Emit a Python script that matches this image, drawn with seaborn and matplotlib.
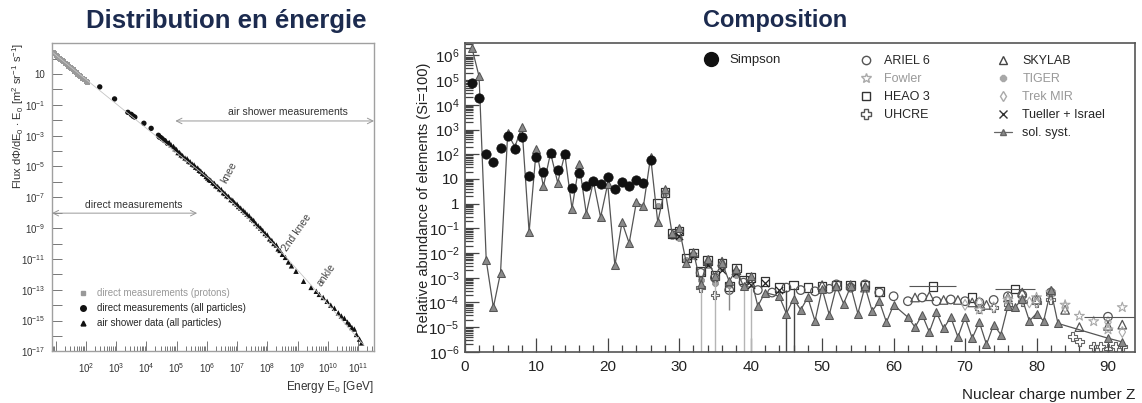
import numpy as np
import matplotlib
matplotlib.use('Agg')
import matplotlib.pyplot as plt
import seaborn as sns
from matplotlib.lines import Line2D
from matplotlib.ticker import LogLocator, FuncFormatter, MultipleLocator, NullFormatter

sns.set_style('ticks')
plt.rcParams['font.family'] = ['Liberation Sans', 'DejaVu Sans']
plt.rcParams['mathtext.default'] = 'regular'

# ---------------- données : spectre en énergie (log10) ----------------
prot_logE = [0.92, 0.97, 1.02, 1.07, 1.12, 1.17, 1.22, 1.27, 1.32, 1.38, 1.43, 1.48,
             1.53, 1.58, 1.63, 1.68, 1.74, 1.79, 1.84, 1.90, 1.95, 2.01, 2.06]
prot_logF = [2.37, 2.30, 2.20, 2.13, 2.03, 1.96, 1.86, 1.79, 1.69, 1.60, 1.51, 1.43,
             1.33, 1.26, 1.16, 1.09, 0.98, 0.90, 0.81, 0.72, 0.62, 0.53, 0.43]

direct_logE = [2.46, 2.95, 3.39, 3.50, 3.56, 3.62, 3.92, 4.16, 4.40, 4.43, 4.47, 4.52, 4.60, 4.70]
direct_logF = [0.16, -0.62, -1.49, -1.62, -1.73, -1.80, -2.20, -2.53, -2.98, -3.09, -3.12, -3.20, -3.32, -3.50]

air_logE = [4.76, 4.82, 4.90, 4.95, 5.00, 5.05, 5.10, 5.15, 5.20, 5.28, 5.35, 5.40, 5.45, 5.52,
            5.58, 5.63, 5.70, 5.75, 5.80, 5.86, 5.92, 5.98, 6.03, 6.08, 6.13, 6.20, 6.25, 6.30,
            6.36, 6.42, 6.48, 6.55, 6.60, 6.66, 6.72, 6.80, 6.86, 6.92, 7.00, 7.05, 7.12, 7.20,
            7.26, 7.33, 7.40, 7.48, 7.55, 7.62, 7.70, 7.78, 7.85, 7.93, 8.00, 8.08, 8.15, 8.22,
            8.30, 8.36, 8.42, 8.50, 8.60, 8.70, 8.80, 8.95, 9.20, 9.45, 9.62, 9.72, 9.85, 9.98,
            10.10, 10.22, 10.35, 10.45, 10.55, 10.65, 10.72, 10.80, 10.88, 10.95, 11.05, 11.12]
air_logF = [-3.45, -3.60, -3.70, -3.85, -3.90, -4.10, -4.10, -4.25, -4.30, -4.45, -4.50, -4.65,
            -4.70, -4.85, -4.90, -5.05, -5.10, -5.25, -5.30, -5.45, -5.50, -5.65, -5.75, -5.85,
            -5.90, -6.05, -6.10, -6.25, -6.30, -6.45, -6.50, -6.70, -6.75, -6.90, -6.95, -7.15,
            -7.20, -7.35, -7.45, -7.60, -7.70, -7.85, -7.95, -8.10, -8.20, -8.40, -8.50, -8.70,
            -8.85, -9.00, -9.15, -9.35, -9.45, -9.70, -9.80, -10.00, -10.10, -10.35, -10.45,
            -10.70, -10.90, -11.20, -11.45, -11.80, -12.45, -12.85, -13.10, -13.30, -13.50,
            -13.75, -14.00, -14.20, -14.50, -14.70, -14.85, -15.10, -15.25, -15.45, -15.55,
            -15.90, -16.20, -16.45]

fit_logE = [0.90, 6.10, 8.40, 9.70, 11.20]
fit_logF = [2.40, -5.85, -10.40, -13.25, -16.60]

# ---------------- données : composition (log10, Si=100) ----------------
simpson_z = list(range(1, 27))
simpson_log = [4.90, 4.27, 2.00, 1.70, 2.25, 2.73, 2.20, 2.70, 1.10, 1.90, 1.30, 2.05, 1.36,
               2.00, 0.64, 1.24, 0.72, 0.92, 0.80, 1.08, 0.60, 0.88, 0.72, 0.96, 0.84, 1.75]

sol_z = list(range(1, 43)) + list(range(44, 61)) + list(range(62, 84)) + [90, 92]
sol_log = [6.30, 5.15, -2.30, -4.20, -2.80, 2.85, 2.30, 3.10, -1.15, 2.20, 0.70, 2.05, 0.85,
           2.00, -0.20, 1.60, -0.40, 0.90, -0.55, 0.80, -2.50, -0.75, -1.60, 0.05, -0.10, 1.90,
           -0.75, 0.60, -1.20, -1.00, -2.40, -1.95, -3.25, -2.25, -2.95, -2.40, -3.15, -2.65,
           -3.35, -2.95, -4.15, -3.60,
           -3.75, -4.45, -3.85, -4.30, -3.80, -4.75, -3.45, -4.50, -3.35, -4.05, -3.35, -4.45,
           -3.35, -4.35, -3.95, -4.80, -4.10,
           -4.60, -5.00, -4.50, -5.20, -4.40, -5.05, -4.60, -5.40, -4.60, -5.45, -4.80, -5.70,
           -4.90, -5.30, -4.15, -4.20, -3.85, -4.75, -4.45, -4.75, -3.50, -4.85,
           -5.45, -5.60]

ariel_z = [33, 35, 37, 39, 41, 43, 45, 47, 49, 51, 52, 54, 56, 58, 60, 62, 64, 66, 68, 70,
           72, 74, 76, 78, 80, 82, 90]
ariel_log = [-2.80, -3.00, -3.50, -3.20, -3.50, -3.60, -3.40, -3.50, -3.55, -3.45, -3.27,
             -3.40, -3.27, -3.60, -3.75, -3.95, -3.80, -3.95, -3.88, -3.95, -4.00, -3.90,
             -3.75, -3.70, -3.90, -3.60, -4.58]

fowler_z = [72, 76, 80, 82, 84, 86, 88, 90, 92]
fowler_log = [-4.30, -3.90, -3.80, -3.60, -4.10, -4.55, -4.77, -5.10, -4.20]

heao_z = [27, 28, 29, 30, 31, 32, 33, 34, 35, 36, 37, 38, 39, 40, 42, 44, 46, 48, 50, 52,
          54, 56, 58, 65.5, 71, 77]
heao_log = [0.00, 0.45, -1.20, -1.10, -2.20, -2.00, -2.75, -2.30, -2.90, -2.40, -3.35, -2.60,
            -3.10, -3.00, -3.15, -3.40, -3.30, -3.40, -3.35, -3.30, -3.30, -3.30, -3.55,
            -3.35, -3.80, -3.45]
heao_xerr = [0] * 23 + [3.3, 0, 2.8]

uhcre_z = [33, 35, 72, 74, 76, 78, 80, 82, 85, 86, 88, 89, 90, 91, 92]
uhcre_log = [-3.40, -3.70, -4.25, -4.20, -4.10, -3.95, -4.00, -3.90, -5.37, -5.60, -5.80,
             -5.80, -5.85, -5.80, -5.80]

skylab_z = [34, 36, 38, 40, 50, 52, 54, 56, 63, 65, 67, 69, 71, 73, 76, 78, 80, 82, 84, 86, 90, 92]
skylab_log = [-2.30, -2.35, -2.70, -3.20, -3.30, -3.35, -3.30, -3.40, -3.80, -3.75, -3.90,
              -3.90, -4.00, -4.10, -3.80, -3.60, -3.90, -3.55, -4.30, -5.00, -4.95, -4.90]

tiger_z = [26, 27, 28, 29, 30, 31, 32, 33, 34, 35, 36, 37, 38]
tiger_log = [1.75, -0.10, 0.45, -1.30, -1.40, -2.30, -2.10, -3.10, -2.50, -3.20, -2.60, -3.30, -2.90]

trek_z = [70, 72, 74, 76, 78, 79, 80, 82, 84, 90, 92]
trek_log = [-4.10, -4.00, -4.20, -3.90, -3.90, -4.00, -4.00, -3.70, -4.20, -4.80, -5.20]

tueller_z = [30, 32, 34, 36, 38, 40, 42, 44]
tueller_log = [-1.30, -2.10, -2.50, -2.70, -2.80, -3.30, -3.20, -3.50]

# limites / barres d'erreur verticales
lim_grey_z = [33, 35, 39, 40]
lim_grey_top = [-3.20, -3.10, -3.20, -3.40]
lim_dark_z = [45, 46]
lim_dark_top = [-3.50, -3.40]

P = lambda v: 10 ** np.asarray(v, dtype=float)

fig = plt.figure(figsize=(11.42, 4.03), dpi=100)

# ======================= panneau gauche =======================
ax1 = fig.add_axes([0.0455, 0.128, 0.282, 0.765])
ax1.set_xscale('log')
ax1.set_yscale('log')

sns.lineplot(x=P(fit_logE), y=P(fit_logF), color='#c4c4c4', lw=0.6, ax=ax1, legend=False)
sns.scatterplot(x=P(prot_logE), y=P(prot_logF), marker='s', s=13, color='#9a9a9a',
                edgecolor='none', ax=ax1, legend=False)
sns.scatterplot(x=P(direct_logE), y=P(direct_logF), marker='o', s=15, color='#111111',
                edgecolor='none', ax=ax1, legend=False)
sns.scatterplot(x=P(air_logE), y=P(air_logF), marker='^', s=15, color='#111111',
                edgecolor='none', ax=ax1, legend=False)

ax1.set_xlim(10 ** 0.88, 10 ** 11.53)
ax1.set_ylim(1e-17, 1e3)

ax1.annotate('', xy=(10 ** 0.88, 10 ** -8.03), xytext=(10 ** 5.68, 10 ** -8.03),
             arrowprops=dict(arrowstyle='<->', color='#999999', lw=0.7, shrinkA=0, shrinkB=0))
ax1.annotate('', xy=(10 ** 4.96, 10 ** -2.05), xytext=(10 ** 11.53, 10 ** -2.05),
             arrowprops=dict(arrowstyle='<->', color='#999999', lw=0.7, shrinkA=0, shrinkB=0))
ax1.text(10 ** 3.6, 10 ** -7.5, 'direct measurements', fontsize=7.5, color='#333',
         ha='center', va='center')
ax1.text(10 ** 8.7, 10 ** -1.47, 'air shower measurements', fontsize=7.5, color='#333',
         ha='center', va='center')
ax1.text(10 ** 6.74, 10 ** -5.4, 'knee', fontsize=7.5, color='#444', rotation=62,
         ha='center', va='center')
ax1.text(10 ** 8.97, 10 ** -9.3, '2nd knee', fontsize=7.5, color='#444', rotation=55,
         ha='center', va='center')
ax1.text(10 ** 9.96, 10 ** -12.05, 'ankle', fontsize=7.5, color='#444', rotation=55,
         ha='center', va='center')

ax1.xaxis.set_major_locator(LogLocator(base=10, numticks=20))
ax1.xaxis.set_minor_locator(LogLocator(base=10, subs=np.arange(2, 10), numticks=20))
ax1.xaxis.set_minor_formatter(NullFormatter())
ax1.xaxis.set_major_formatter(FuncFormatter(
    lambda v, p: r'$10^{%d}$' % round(np.log10(v)) if round(np.log10(v)) >= 2 else ''))
ax1.yaxis.set_major_locator(LogLocator(base=10, numticks=30))
ax1.yaxis.set_minor_locator(LogLocator(base=10, subs=[], numticks=30))


def flux_fmt(v, p):
    e = int(round(np.log10(v)))
    if e % 2 == 0 or e > 1:
        return ''
    return '10' if e == 1 else r'$10^{%d}$' % e


ax1.yaxis.set_major_formatter(FuncFormatter(flux_fmt))
ax1.tick_params(which='both', direction='in', labelsize=7, labelcolor='#333', color='#777',
                width=0.7)
ax1.tick_params(axis='x', which='major', length=7, pad=7)
ax1.tick_params(axis='x', which='minor', length=3.5)
ax1.tick_params(axis='y', which='major', length=7, pad=5)
for sp in ax1.spines.values():
    sp.set_color('#a0a0a0')
    sp.set_linewidth(1.0)
    sp.set_visible(True)

ax1.set_xlabel('Energy E$_0$ [GeV]', loc='right', fontsize=8.5, color='#333', labelpad=3)
ax1.set_ylabel(r'Flux d$\Phi$/dE$_0$ $\cdot$ E$_0$ [m$^{2}$ sr$^{-1}$ s$^{-1}$]', loc='top',
               fontsize=8, color='#333')
ax1.yaxis.set_label_coords(-0.08, 1.0)

h_left = [Line2D([], [], marker='s', ls='none', color='#999999', markersize=3.5),
          Line2D([], [], marker='o', ls='none', color='#111111', markersize=4),
          Line2D([], [], marker='^', ls='none', color='#111111', markersize=3.5)]
leg0 = ax1.legend(h_left, ['direct measurements (protons)', 'direct measurements (all particles)',
                           'air shower data (all particles)'],
                  loc='upper left', bbox_to_anchor=(0.081, 0.205), frameon=False, fontsize=7,
                  handlelength=1.0, handletextpad=0.9, labelspacing=0.5, borderpad=0,
                  borderaxespad=0)
leg0.get_texts()[0].set_color('#999999')

# ======================= panneau droit =======================
ax2 = fig.add_axes([0.407, 0.127, 0.587, 0.766])
ax2.set_yscale('log')

ax2.vlines(lim_grey_z, 1e-7, P(lim_grey_top), color='#b5b5b5', lw=1.0)
ax2.vlines(lim_dark_z, 1e-7, P(lim_dark_top), color='#444444', lw=1.0)
ax2.vlines([37], P([-4.3]), P([-3.4]), color='#888888', lw=1.0)

sns.lineplot(x=sol_z, y=P(sol_log), color='#555555', lw=0.9, marker='^', markersize=5.5,
             markerfacecolor='#8a8a8a', markeredgecolor='#555555', ax=ax2, legend=False)
sns.scatterplot(x=simpson_z, y=P(simpson_log), marker='o', s=45, color='#111111',
                edgecolor='#111111', ax=ax2, legend=False, zorder=5)
sns.scatterplot(x=tiger_z, y=P(tiger_log), marker='8', s=22, color='#9c9c9c',
                edgecolor='#777777', ax=ax2, legend=False)
sns.scatterplot(x=heao_z, y=P(heao_log), marker='s', s=38, facecolor='none',
                edgecolor='#333333', linewidth=0.9, ax=ax2, legend=False)
ax2.errorbar(heao_z, P(heao_log), xerr=heao_xerr, fmt='none', ecolor='#555555',
             elinewidth=0.8, capsize=0)
sns.scatterplot(x=ariel_z, y=P(ariel_log), marker='o', s=38, facecolor='none',
                edgecolor='#555555', linewidth=0.9, ax=ax2, legend=False)
ax2.errorbar([90], P([-4.58]), xerr=[[3.4], [4.2]], fmt='none', ecolor='#555555',
             elinewidth=0.8, capsize=0)
sns.scatterplot(x=skylab_z, y=P(skylab_log), marker='^', s=38, facecolor='none',
                edgecolor='#555555', linewidth=0.9, ax=ax2, legend=False)
sns.scatterplot(x=uhcre_z, y=P(uhcre_log), marker='P', s=40, facecolor='none',
                edgecolor='#666666', linewidth=0.8, ax=ax2, legend=False)
sns.scatterplot(x=fowler_z, y=P(fowler_log), marker='*', s=55, facecolor='none',
                edgecolor='#a8a8a8', linewidth=0.8, ax=ax2, legend=False)
sns.scatterplot(x=trek_z, y=P(trek_log), marker='d', s=30, facecolor='none',
                edgecolor='#aaaaaa', linewidth=0.8, ax=ax2, legend=False)
sns.scatterplot(x=tueller_z, y=P(tueller_log), marker='x', s=28, color='#222222',
                linewidth=0.9, ax=ax2, legend=False)

ax2.set_xlim(0, 93.8)
ax2.set_ylim(1e-6, 10 ** 6.5)

ax2.xaxis.set_major_locator(MultipleLocator(10))
ax2.xaxis.set_minor_locator(MultipleLocator(2))
ax2.yaxis.set_major_locator(LogLocator(base=10, numticks=20))
ax2.yaxis.set_minor_locator(LogLocator(base=10, subs=np.arange(2, 10), numticks=20))
ax2.yaxis.set_minor_formatter(NullFormatter())


def abund_fmt(v, p):
    e = int(round(np.log10(v)))
    if e == 0:
        return '1'
    if e == 1:
        return '10'
    return r'$10^{%d}$' % e


ax2.yaxis.set_major_formatter(FuncFormatter(abund_fmt))
ax2.tick_params(which='both', direction='in', labelsize=11, labelcolor='#222', color='#444',
                width=0.9)
ax2.tick_params(axis='x', which='major', length=10, pad=6)
ax2.tick_params(axis='x', which='minor', length=5)
ax2.tick_params(axis='y', which='major', length=10, pad=4)
ax2.tick_params(axis='y', which='minor', length=6)
for sp in ax2.spines.values():
    sp.set_color('#555555')
    sp.set_linewidth(1.2)
    sp.set_visible(True)

ax2.set_xlabel('Nuclear charge number Z', loc='right', fontsize=11, color='#222', labelpad=10)
ax2.set_ylabel('Relative abundance of elements (Si=100)', fontsize=10.5, color='#222',
               labelpad=-2)

# légendes (trois colonnes)
leg_kw = dict(frameon=False, fontsize=9, handletextpad=0.8, labelspacing=0.48,
              borderpad=0, borderaxespad=0, loc='upper left')
h1 = [Line2D([], [], marker='o', ls='none', color='#111111', markersize=10)]
leg1 = ax2.legend(h1, ['Simpson'], bbox_to_anchor=(0.355, 0.965), handlelength=1.2,
                  **dict(leg_kw, fontsize=9.5))
ax2.add_artist(leg1)

h2 = [Line2D([], [], marker='o', ls='none', mfc='none', mec='#555555', markersize=6),
      Line2D([], [], marker='*', ls='none', mfc='none', mec='#aaaaaa', markersize=7),
      Line2D([], [], marker='s', ls='none', mfc='none', mec='#333333', markersize=6),
      Line2D([], [], marker='P', ls='none', mfc='none', mec='#555555', markersize=7)]
leg2 = ax2.legend(h2, ['ARIEL 6', 'Fowler', 'HEAO 3', 'UHCRE'],
                  bbox_to_anchor=(0.588, 0.96), handlelength=1.2, **leg_kw)
leg2.get_texts()[1].set_color('#999999')
ax2.add_artist(leg2)

h3 = [Line2D([], [], marker='^', ls='none', mfc='none', mec='#444444', markersize=6),
      Line2D([], [], marker='8', ls='none', color='#a8a8a8', markersize=4),
      Line2D([], [], marker='d', ls='none', mfc='none', mec='#aaaaaa', markersize=5.5),
      Line2D([], [], marker='x', ls='none', color='#333333', markersize=6),
      Line2D([], [], marker='^', ls='-', color='#666666', mfc='#8a8a8a', lw=0.9, markersize=5)]
leg3 = ax2.legend(h3, ['SKYLAB', 'TIGER', 'Trek MIR', 'Tueller + Israel', 'sol. syst.'],
                  bbox_to_anchor=(0.789, 0.96), handlelength=1.5, **leg_kw)
for i in (1, 2):
    leg3.get_texts()[i].set_color('#999999')

# titres
fig.text(0.198, 0.948, 'Distribution en énergie', fontsize=18.5, fontweight='bold',
         color='#1c2b4f', ha='center', va='center')
fig.text(0.679, 0.948, 'Composition', fontsize=17, fontweight='bold',
         color='#1c2b4f', ha='center', va='center')

fig.savefig('out.png', dpi=100)
